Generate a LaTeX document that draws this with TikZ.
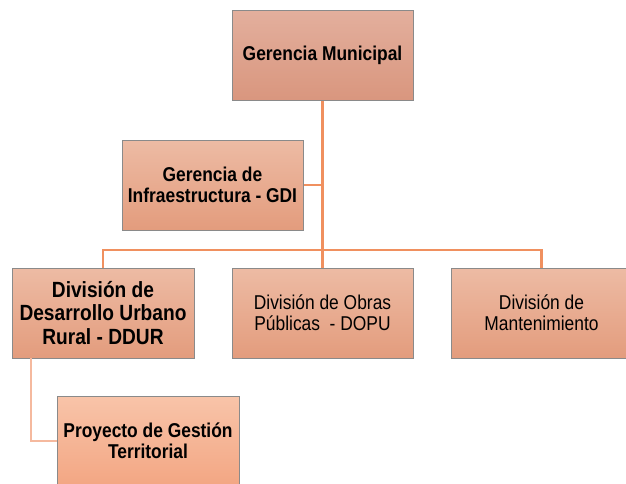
\documentclass[tikz,border=0pt]{standalone}
\usepackage{fontspec}
\newfontfamily\orgfont[FakeStretch=0.87]{Liberation Sans}
\usepackage{xcolor}
\definecolor{gmtop}{HTML}{E3AF9D}
\definecolor{gmbot}{HTML}{D9967E}
\definecolor{unittop}{HTML}{EDBBA4}
\definecolor{unitbot}{HTML}{E39C7D}
\definecolor{projtop}{HTML}{F8C4A9}
\definecolor{projbot}{HTML}{F3A683}
\definecolor{boxgray}{HTML}{8A8A8A}
\definecolor{linkorange}{HTML}{F0905F}
\definecolor{linkpeach}{HTML}{F5B99E}
\usetikzlibrary{positioning}

\begin{document}
\begin{tikzpicture}[x=1pt, y=-1pt,
  unit/.style={draw=boxgray, line width=1pt, minimum width=181pt, minimum height=90pt,
    inner sep=0pt, align=center, top color=unittop, bottom color=unitbot,
    font=\orgfont\fontsize{20}{21}\selectfont},
  link/.style={draw=linkorange, line width=2.6pt}]
\clip (0,0) rectangle (626,484);

% Boxes
\node[unit, top color=gmtop, bottom color=gmbot] (gm) at (322.5,55.5) {\bfseries Gerencia Municipal};
\node[unit] (gdi) at (212.5,185) {\bfseries Gerencia de\\\bfseries Infraestructura - GDI};
\node[unit, minimum width=182pt, font=\orgfont\fontsize{22}{23.5}\selectfont] (ddur) at (103,313)
  {\bfseries División de\\\bfseries Desarrollo Urbano\\\bfseries Rural - DDUR};
\node[unit] (dopu) at (322.5,313) {División de Obras\\Públicas~~- DOPU};
\node[unit] (mant) at (541.5,313) {División de\\Mantenimiento};
\node[unit, minimum width=182pt, top color=projtop, bottom color=projbot] (pgt) at (148,441)
  {\bfseries Proyecto de Gestión\\\bfseries Territorial};

% Connectors
\coordinate (bus) at (322.5,250);
\coordinate (ddurfoot) at (31,358);
\draw[link] (gm.south) -- (dopu.north);
\draw[link] (gdi.east) -- (gdi.east -| gm.south);
\draw[link] (ddur.north) |- (bus) -| (mant.north);
\draw[link, draw=linkpeach] (ddurfoot) |- (pgt.west);
\end{tikzpicture}
\end{document}
